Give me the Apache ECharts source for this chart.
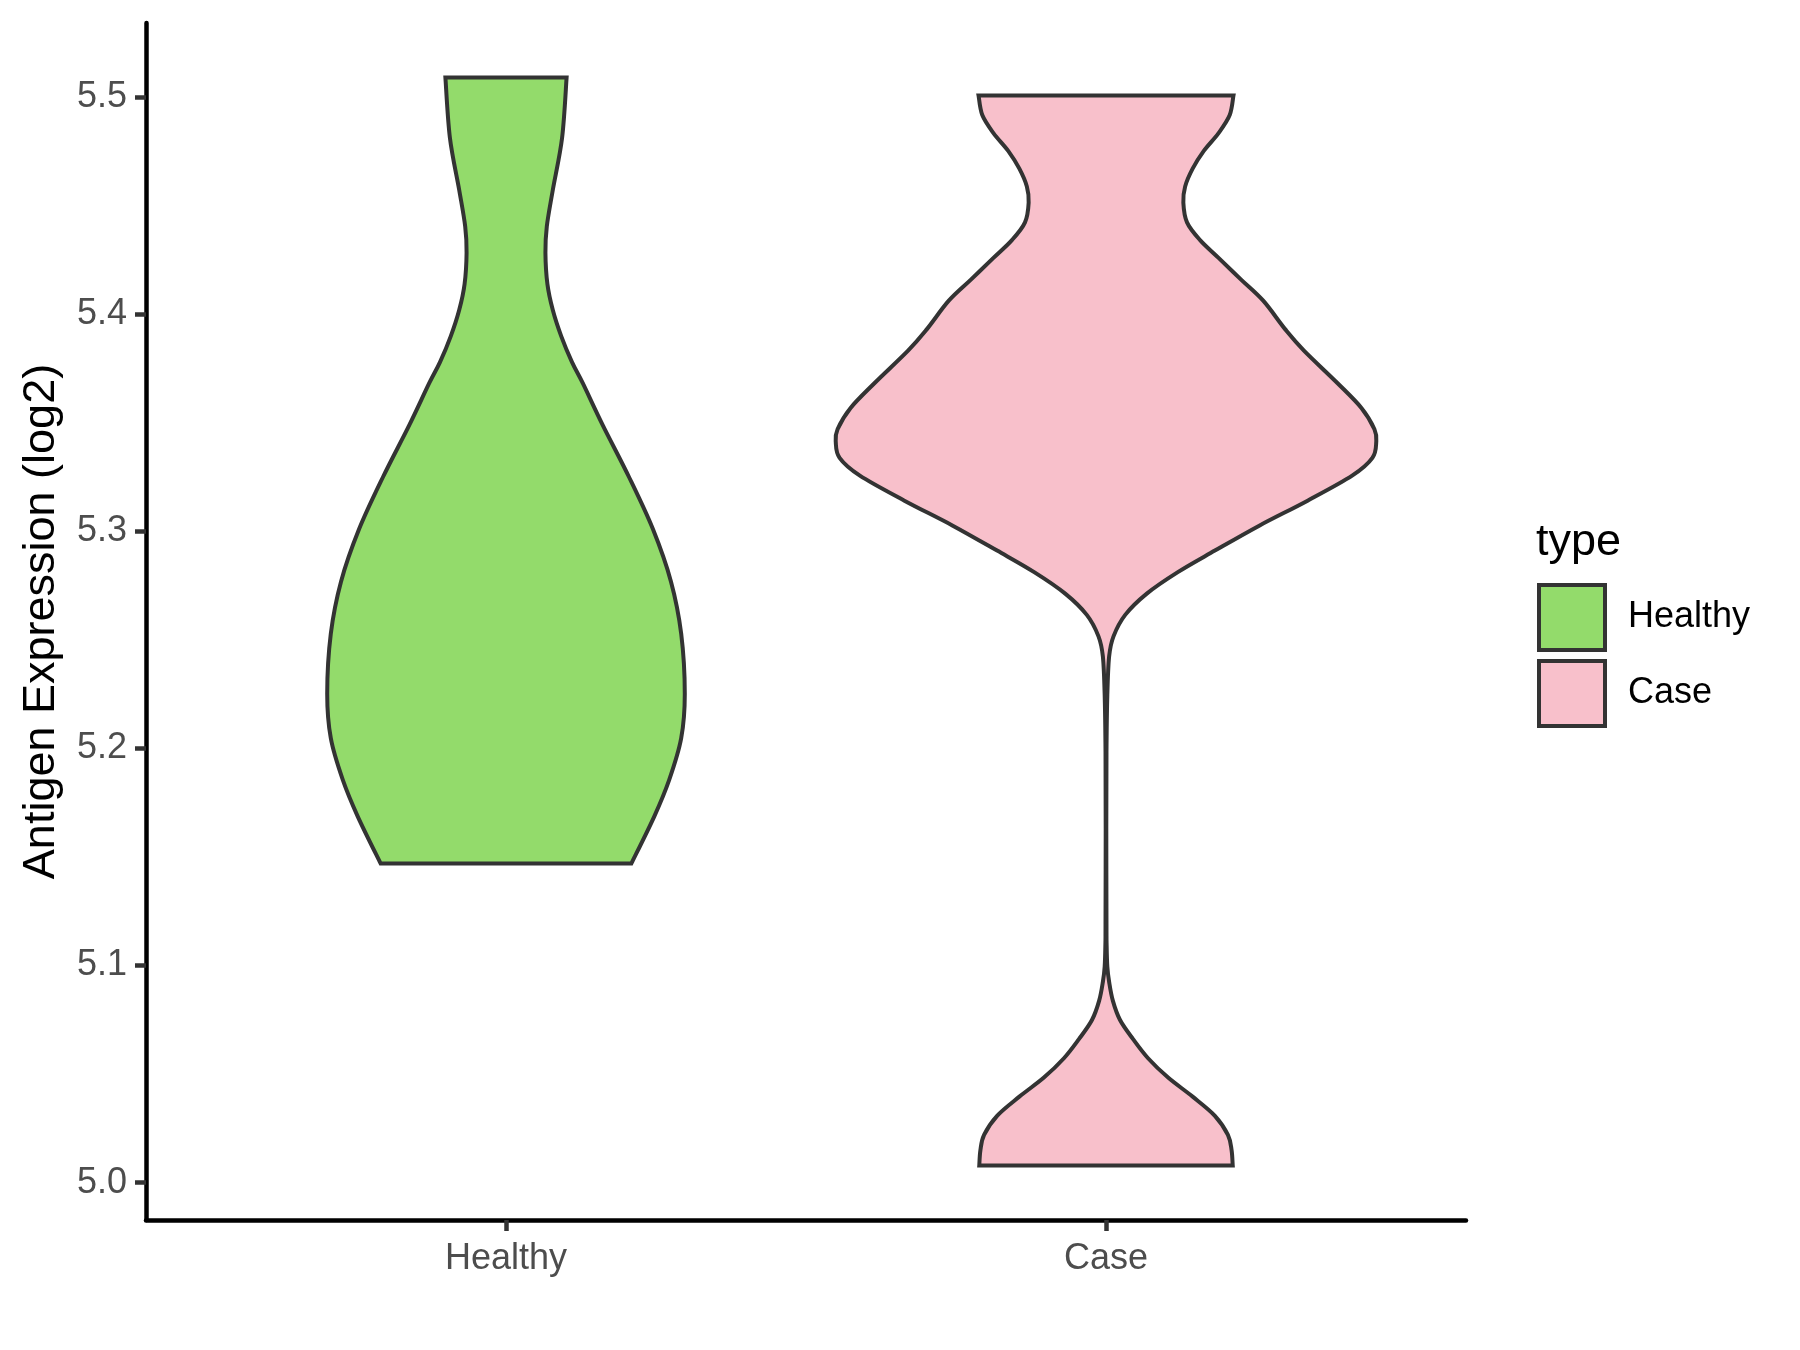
<!DOCTYPE html>
<html>
<head>
<meta charset="utf-8">
<script src="https://cdn.jsdelivr.net/npm/echarts@6/dist/echarts.min.js"></script>
<style>
  html, body { margin: 0; padding: 0; background: #fff; }
  #main { width: 1800px; height: 1350px; }
</style>
</head>
<body>
<div id="main"></div>
<script>
var dom = document.getElementById('main');
var myChart = echarts.init(dom);

// categories on the x axis (positions 1 and 2)
var categories = ['Healthy', 'Case'];
var yTicks = [5.0, 5.1, 5.2, 5.3, 5.4, 5.5];

// violin outlines: value on y, half width in x units
var healthyY = [5.509, 5.4813, 5.4572, 5.4404, 5.4283, 5.4139, 5.4019, 5.3899, 5.3779, 5.3682,
    5.349, 5.325, 5.3009, 5.2768, 5.2528, 5.2251, 5.2047, 5.1855, 5.1686, 5.147];
var healthyW = [0.101, 0.0935, 0.078, 0.068, 0.0657, 0.069, 0.078, 0.092, 0.110, 0.128,
    0.161, 0.205, 0.245, 0.275, 0.292, 0.298, 0.292, 0.272, 0.247, 0.209];

var caseY = [5.5007, 5.4917, 5.4834, 5.4752, 5.467, 5.4588, 5.4514, 5.4423, 5.4341, 5.4259,
    5.416, 5.4062, 5.393, 5.3832, 5.3683, 5.3568, 5.347, 5.3412, 5.3338, 5.3256,
    5.3141, 5.3026, 5.2911, 5.2812, 5.2713, 5.2615, 5.2516, 5.2423, 5.2246, 5.1982,
    5.163, 5.1189, 5.1101, 5.0995, 5.0925, 5.0837, 5.0749, 5.0661, 5.0573, 5.0484,
    5.0396, 5.0308, 5.022, 5.015, 5.0079];
var caseW = [0.2124, 0.2062, 0.1876, 0.163, 0.1444, 0.1319, 0.1289, 0.135, 0.1568, 0.1876,
    0.2247, 0.262, 0.2988, 0.3299, 0.3856, 0.4257, 0.4474, 0.4504, 0.444, 0.4102,
    0.336, 0.2554, 0.1815, 0.1197, 0.068, 0.032, 0.0125, 0.0052, 0.0022, 0.0008,
    0.0005, 0.0008, 0.001, 0.0022, 0.0052, 0.0115, 0.0234, 0.0451, 0.0701, 0.1035,
    0.1444, 0.1815, 0.2032, 0.2093, 0.2112];

var colors = ['#93DB6B', '#F8C0CB'];
var font = "'Liberation Sans', Arial, sans-serif";

// smooth curve through pixel points (catmull-rom as cubic bezier), no move
function curveThrough(p) {
    var d = '';
    for (var i = 0; i < p.length - 1; i++) {
        var p0 = p[Math.max(i - 1, 0)], p1 = p[i], p2 = p[i + 1], p3 = p[Math.min(i + 2, p.length - 1)];
        var c1x = p1[0] + (p2[0] - p0[0]) / 6, c1y = p1[1] + (p2[1] - p0[1]) / 6;
        var c2x = p2[0] - (p3[0] - p1[0]) / 6, c2y = p2[1] - (p3[1] - p1[1]) / 6;
        d += ' C' + c1x + ' ' + c1y + ' ' + c2x + ' ' + c2y + ' ' + p2[0] + ' ' + p2[1];
    }
    return d;
}

function violin(ys, ws) {
    return function (params, api) {
        var c = api.value(0);
        var right = [], left = [];
        for (var i = 0; i < ys.length; i++) {
            right.push(api.coord([c + ws[i], ys[i]]));
        }
        for (var j = ys.length - 1; j >= 0; j--) {
            left.push(api.coord([c - ws[j], ys[j]]));
        }
        var d = 'M' + right[0][0] + ' ' + right[0][1] + curveThrough(right) +
            ' L' + left[0][0] + ' ' + left[0][1] + curveThrough(left) + ' Z';
        var x0 = api.coord([c - 0.5, ys[0]]), x1 = api.coord([c + 0.5, ys[ys.length - 1]]);
        return {
            type: 'path',
            shape: {
                pathData: d,
                x: x0[0], y: x0[1], width: x1[0] - x0[0], height: x1[1] - x0[1]
            },
            style: {
                fill: api.visual('color'),
                stroke: '#333333',
                lineWidth: 4
            }
        };
    };
}

option = {
    animation: false,
    backgroundColor: '#ffffff',
    title: {
        text: 'type',
        left: 1531,
        top: 515,
        textStyle: { fontFamily: font, fontSize: 45, fontWeight: 'normal', color: '#000' }
    },
    legend: {
        orient: 'vertical',
        left: 1532,
        top: 578,
        itemWidth: 66,
        itemHeight: 65,
        itemGap: 7,
        data: [{ name: 'Healthy', icon: 'rect' }, { name: 'Case', icon: 'rect' }],
        itemStyle: { borderColor: '#333333', borderWidth: 4 },
        textStyle: { fontFamily: font, fontSize: 36, color: '#000', padding: [0, 0, 0, 18] },
        selectedMode: false
    },
    grid: { left: 146, right: 334, top: 23, bottom: 130 },
    xAxis: {
        type: 'value',
        min: 0.4,
        max: 2.6,
        splitLine: { show: false },
        axisLine: { lineStyle: { color: '#000', width: 4.5 } },
        axisTick: { customValues: [1, 2], length: 11, lineStyle: { color: '#333', width: 4.5 } },
        axisLabel: {
            customValues: [1, 2],
            margin: 21,
            fontFamily: font,
            fontSize: 36,
            color: '#4D4D4D',
            formatter: function (v) { return categories[Math.round(v) - 1]; }
        }
    },
    yAxis: {
        type: 'value',
        min: 4.9828,
        max: 5.5341,
        name: 'Antigen Expression (log2)',
        nameLocation: 'middle',
        nameGap: 82,
        nameTextStyle: { fontFamily: font, fontSize: 45, color: '#000' },
        splitLine: { show: false },
        axisLine: { lineStyle: { color: '#000', width: 4.5 } },
        axisTick: { customValues: yTicks, length: 11, lineStyle: { color: '#333', width: 4.5 } },
        axisLabel: {
            customValues: yTicks,
            margin: 19,
            fontFamily: font,
            fontSize: 36,
            color: '#4D4D4D',
            formatter: function (v) { return v.toFixed(1); }
        }
    },
    series: [
        {
            name: 'Healthy',
            type: 'custom',
            itemStyle: { color: colors[0] },
            renderItem: violin(healthyY, healthyW),
            encode: { x: 0, y: 1 },
            data: [[1, 5.3]]
        },
        {
            name: 'Case',
            type: 'custom',
            itemStyle: { color: colors[1] },
            renderItem: violin(caseY, caseW),
            encode: { x: 0, y: 1 },
            data: [[2, 5.3]]
        }
    ]
};
myChart.setOption(option);
</script>
</body>
</html>
